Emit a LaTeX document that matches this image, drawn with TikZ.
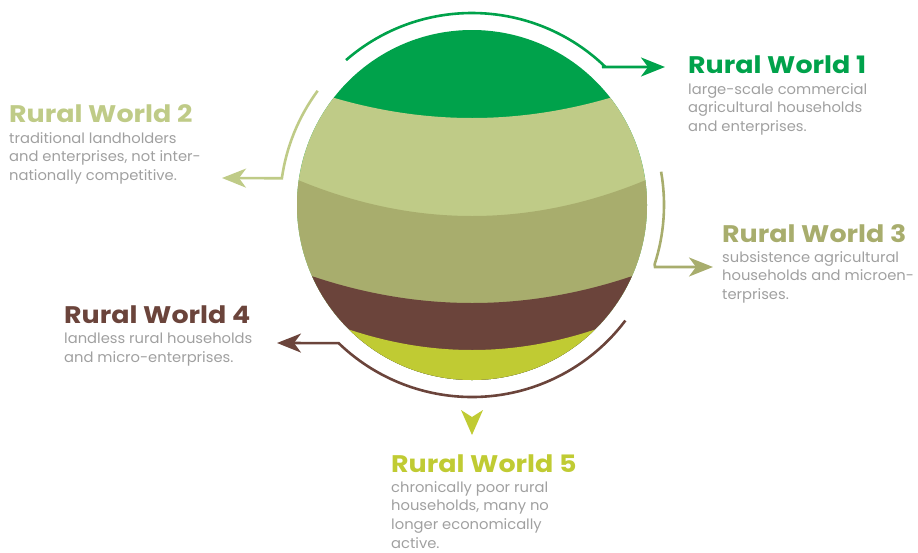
\documentclass[tikz,border=0pt]{standalone}
\usepackage{fontspec}
\setmainfont{Poppins}
\newfontfamily\ttlfont[FakeStretch=1.12]{Poppins}
\newfontfamily\bodyfont[FakeStretch=1.03]{Poppins}
\usetikzlibrary{arrows.meta}
\definecolor{rwA}{HTML}{00A24B}
\definecolor{rwB}{HTML}{BFCB87}
\definecolor{rwC}{HTML}{A8AD6D}
\definecolor{rwD}{HTML}{6B443B}
\definecolor{rwE}{HTML}{C0CB33}
\definecolor{txtgray}{HTML}{A0A0A0}
\begin{document}
\begin{tikzpicture}[x=1pt,y=-1pt,
  ttl/.style={anchor=base west,inner sep=0pt,font=\ttlfont\fontsize{24}{28}\selectfont\bfseries},
  body/.style={anchor=north west,inner sep=0pt,align=left,text=txtgray,font=\bodyfont\fontsize{14.3}{18.8}\selectfont},
  ring/.style={line width=2.6pt},
  tip/.style={-{Stealth[length=24pt,width=19pt,inset=7pt]}}]
\useasboundingbox (0,0) rectangle (918,552);
\coordinate (c) at (472,205);
% sphere
\begin{scope}
\clip (c) circle[radius=175pt];
\fill[rwA] (280,20) rectangle (670,390);
\fill[rwB] plot[domain=280:670,samples=80] (\x,{118-20*((\x-472)/137.5)^2}) -- (670,390) -- (280,390) -- cycle;
\fill[rwC] plot[domain=280:670,samples=80] (\x,{216-36*((\x-472)/174)^2}) -- (670,390) -- (280,390) -- cycle;
\fill[rwD] plot[domain=280:670,samples=80] (\x,{303-27*((\x-472)/160.5)^2}) -- (670,390) -- (280,390) -- cycle;
\fill[rwE] plot[domain=280:670,samples=80] (\x,{350-22*((\x-472)/127.5)^2}) -- (670,390) -- (280,390) -- cycle;
\end{scope}
% texts
\node[ttl,text=rwA] (t1) at (688,73) {Rural World 1};
\node[body] (b1) at (688,83) {large-scale commercial\\agricultural households\\and enterprises.};
\node[ttl,text=rwB] (t2) at (9,122) {Rural World 2};
\node[body] (b2) at (9,132) {traditional landholders\\and enterprises, not inter-\\nationally competitive.};
\node[ttl,text=rwC] (t3) at (722,242) {Rural World 3};
\node[body] (b3) at (722,251) {subsistence agricultural\\households and microen-\\terprises.};
\node[ttl,text=rwD] (t4) at (64,323) {Rural World 4};
\node[body] (b4) at (64,333) {landless rural households\\and micro-enterprises.};
\node[ttl,text=rwE] (t5) at (391,472) {Rural World 5};
\node[body] (b5) at (391,481) {chronically poor rural\\households, many no\\longer economically\\active.};
% arrow tips
\coordinate (a1) at (665,67);
\coordinate (a2) at (222,178);
\coordinate (a3) at (713,267);
\coordinate (a4) at (277,343);
% arrows
\draw[ring,rwA,tip] (c) ++(131:192pt) arc[start angle=131,end angle=46,radius=192pt] -- (602,67) -- (a1);
\draw[ring,rwB,tip] (c) ++(143.5:192pt) arc[start angle=143.5,end angle=172,radius=192pt] -- (a2);
\draw[ring,rwC,tip] (c) ++(10:192pt) arc[start angle=10,end angle=-18,radius=192pt] -- (655,267) -- (a3);
\draw[ring,rwD,tip] (c) ++(-37:192pt) arc[start angle=-37,end angle=-134,radius=192pt] -- (a4);
\fill[rwE] (472,435) coordinate (a5) -- (461,410) -- (472,417) -- (483,410) -- cycle;
\end{tikzpicture}
\end{document}
